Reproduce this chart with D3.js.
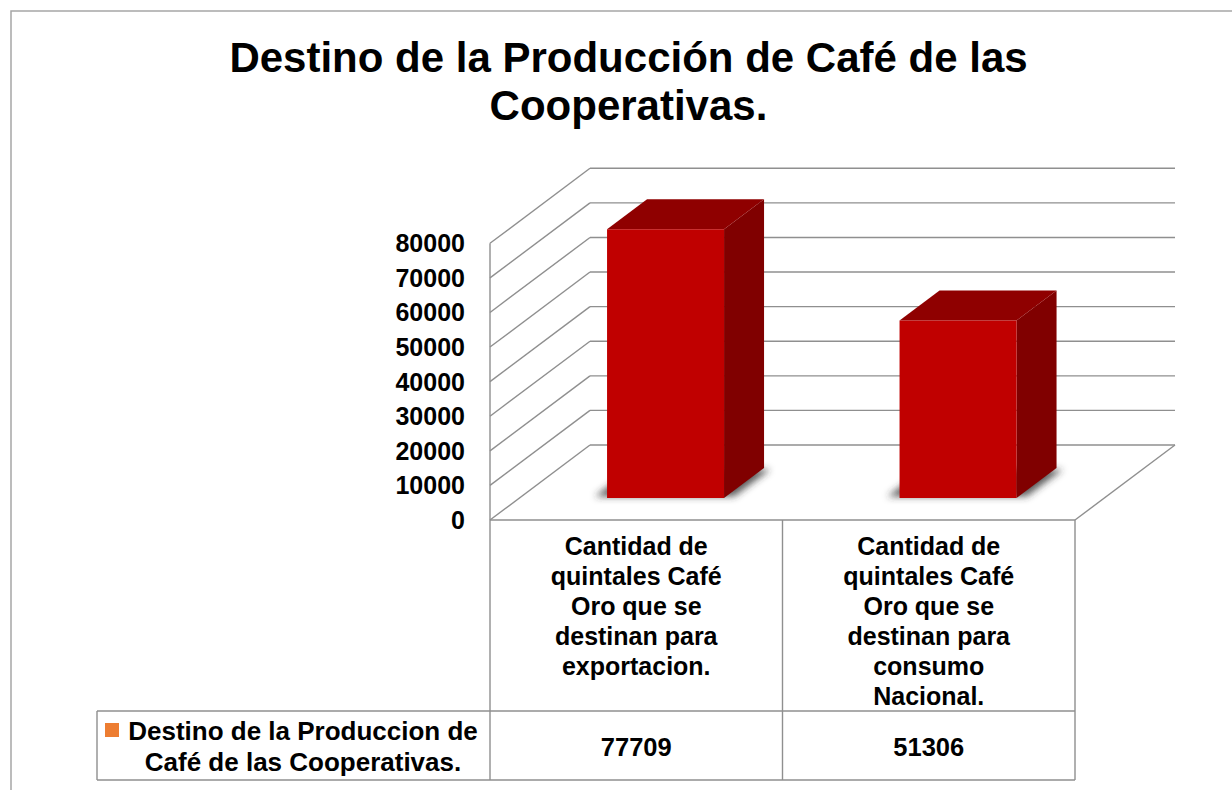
<!DOCTYPE html>
<html>
<head>
<meta charset="utf-8">
<script src="https://cdn.jsdelivr.net/npm/d3@7"></script>
<style>
  html, body { margin: 0; padding: 0; background: #fff; }
  svg { display: block; }
  text { font-family: "Liberation Sans", Arial, sans-serif; font-weight: bold; fill: #000; }
</style>
</head>
<body>
<svg id="chart" width="1232" height="790"></svg>
<script>
// ---- data ----
const titleLines = ["Destino de la Producción de Café de las", "Cooperativas."];
const categories = ["exportacion", "consumo"];
const categoryLabels = [
  ["Cantidad de", "quintales Café", "Oro que se", "destinan para", "exportacion."],
  ["Cantidad de", "quintales Café", "Oro que se", "destinan para", "consumo", "Nacional."]
];
const seriesName = ["Destino de la Produccion de", "Café de las Cooperativas."];
const values = [77709, 51306];
const yTicks = [0, 10000, 20000, 30000, 40000, 50000, 60000, 70000, 80000];

// ---- layout ----
const svg = d3.select("#chart");
const pLeft = 490, pRight = 1075, pBottom = 520, pTop = 243.3;
const depthX = 100, depthY = 75;       // 3D depth offset of back wall
const z0 = 0.293, z1 = 0.693;          // bar depth range (fraction of depth)
const gridColor = "#8f8f8f";

const y = d3.scaleLinear().domain([0, 80000]).range([pBottom, pTop]);
const xCol = d3.scaleBand().domain(categories).range([pLeft, pRight]);
const xBar = d3.scaleBand().domain(categories).range([pLeft, pRight]).paddingInner(0.6).paddingOuter(0.3);
const P = (x, v, z) => [x + z * depthX, y(v) - z * depthY];

// outer border
svg.append("rect").attr("x", 11).attr("y", 11).attr("width", 1400).attr("height", 1000)
  .attr("fill", "none").attr("stroke", "#a6a6a6").attr("stroke-width", 1.5);

// title
const title = svg.append("text").attr("text-anchor", "middle").style("font-size", "42px");
title.append("tspan").attr("x", 628.5).attr("y", 71.5).text(titleLines[0]);
title.append("tspan").attr("x", 628.5).attr("y", 120).text(titleLines[1]);

// walls / gridlines
const grid = svg.append("g").attr("stroke", gridColor).attr("stroke-width", 1.4).attr("fill", "none");
grid.selectAll("line.back").data(yTicks).join("line")
  .attr("x1", d => P(pLeft, d, 1)[0]).attr("y1", d => P(pLeft, d, 1)[1])
  .attr("x2", d => P(pRight, d, 1)[0]).attr("y2", d => P(pRight, d, 1)[1]);
grid.append("g").selectAll("line").data(yTicks).join("line")
  .attr("x1", d => P(pLeft, d, 0)[0]).attr("y1", d => P(pLeft, d, 0)[1])
  .attr("x2", d => P(pLeft, d, 1)[0]).attr("y2", d => P(pLeft, d, 1)[1]);
// floor right edge
grid.append("line")
  .attr("x1", P(pRight, 0, 0)[0]).attr("y1", P(pRight, 0, 0)[1])
  .attr("x2", P(pRight, 0, 1)[0]).attr("y2", P(pRight, 0, 1)[1]);

// y axis labels
svg.append("g").selectAll("text").data(yTicks).join("text")
  .attr("x", 465).attr("y", d => y(d)).attr("dy", "0.36em")
  .attr("text-anchor", "end").style("font-size", "25px")
  .text(d => d);

// shadows
const defs = svg.append("defs");
defs.append("filter").attr("id", "blur").attr("x", "-50%").attr("y", "-50%").attr("width", "200%").attr("height", "200%")
  .append("feGaussianBlur").attr("stdDeviation", 3.5);
const bw = xBar.bandwidth();
svg.append("g").attr("filter", "url(#blur)").selectAll("path").data(categories).join("path")
  .attr("fill", "#333").attr("opacity", 0.8)
  .attr("d", d => {
    const x0 = xBar(d) - 14, x1 = xBar(d) + bw + 8;
    const a = P(x0, 0, z0 + 0.02), b = P(x1, 0, z0 + 0.02), c = P(x1, 0, z1 - 0.02), e = P(x0, 0, z1 - 0.02);
    return `M${a}L${b}L${c}L${e}Z`;
  });

// bars
const bars = svg.append("g").selectAll("g").data(categories).join("g");
bars.append("path").attr("fill", "#800000") // right side
  .attr("d", (d, i) => {
    const x1 = xBar(d) + bw;
    return `M${P(x1, 0, z0)}L${P(x1, values[i], z0)}L${P(x1, values[i], z1)}L${P(x1, 0, z1)}Z`;
  });
bars.append("path").attr("fill", "#8f0000") // top
  .attr("d", (d, i) => {
    const x0 = xBar(d), x1 = xBar(d) + bw, v = values[i];
    return `M${P(x0, v, z0)}L${P(x1, v, z0)}L${P(x1, v, z1)}L${P(x0, v, z1)}Z`;
  });
bars.append("path").attr("fill", "#c00000") // front
  .attr("d", (d, i) => {
    const x0 = xBar(d), x1 = xBar(d) + bw, v = values[i];
    return `M${P(x0, 0, z0)}L${P(x1, 0, z0)}L${P(x1, v, z0)}L${P(x0, v, z0)}Z`;
  });

// data table
const tBottom = 780, tMid = 711, legendLeft = 97;
const tbl = svg.append("g").attr("stroke", gridColor).attr("stroke-width", 1.4).attr("fill", "none");
tbl.append("line").attr("x1", pLeft).attr("x2", pLeft).attr("y1", pTop).attr("y2", tBottom);
tbl.append("line").attr("x1", pLeft).attr("x2", pRight).attr("y1", pBottom).attr("y2", pBottom);
tbl.append("g").selectAll("line").data(categories).join("line")
  .attr("x1", d => xCol(d) + xCol.bandwidth()).attr("x2", d => xCol(d) + xCol.bandwidth())
  .attr("y1", pBottom).attr("y2", tBottom);
tbl.append("line").attr("x1", legendLeft).attr("x2", pRight).attr("y1", tMid).attr("y2", tMid);
tbl.append("line").attr("x1", legendLeft).attr("x2", pRight).attr("y1", tBottom).attr("y2", tBottom);
tbl.append("line").attr("x1", legendLeft).attr("x2", legendLeft).attr("y1", tMid).attr("y2", tBottom);

// category labels
const catG = svg.append("g").selectAll("text").data(categories).join("text")
  .attr("text-anchor", "middle").style("font-size", "25px");
catG.each(function (d, i) {
  const cx = xCol(d) + xCol.bandwidth() / 2;
  d3.select(this).selectAll("tspan").data(categoryLabels[i]).join("tspan")
    .attr("x", cx).attr("y", (t, k) => 554.5 + k * 30).text(t => t);
});

// values row
svg.append("g").selectAll("text").data(categories).join("text")
  .attr("text-anchor", "middle").style("font-size", "25.5px")
  .attr("x", d => xCol(d) + xCol.bandwidth() / 2).attr("y", 756)
  .text((d, i) => values[i]);

// legend
svg.append("rect").attr("x", 105).attr("y", 723).attr("width", 14).attr("height", 14).attr("fill", "#ed7d31");
const leg = svg.append("text").attr("text-anchor", "middle").style("font-size", "26px");
leg.selectAll("tspan").data(seriesName).join("tspan")
  .attr("x", 303).attr("y", (t, k) => 739.5 + k * 31).text(t => t);
</script>
</body>
</html>
